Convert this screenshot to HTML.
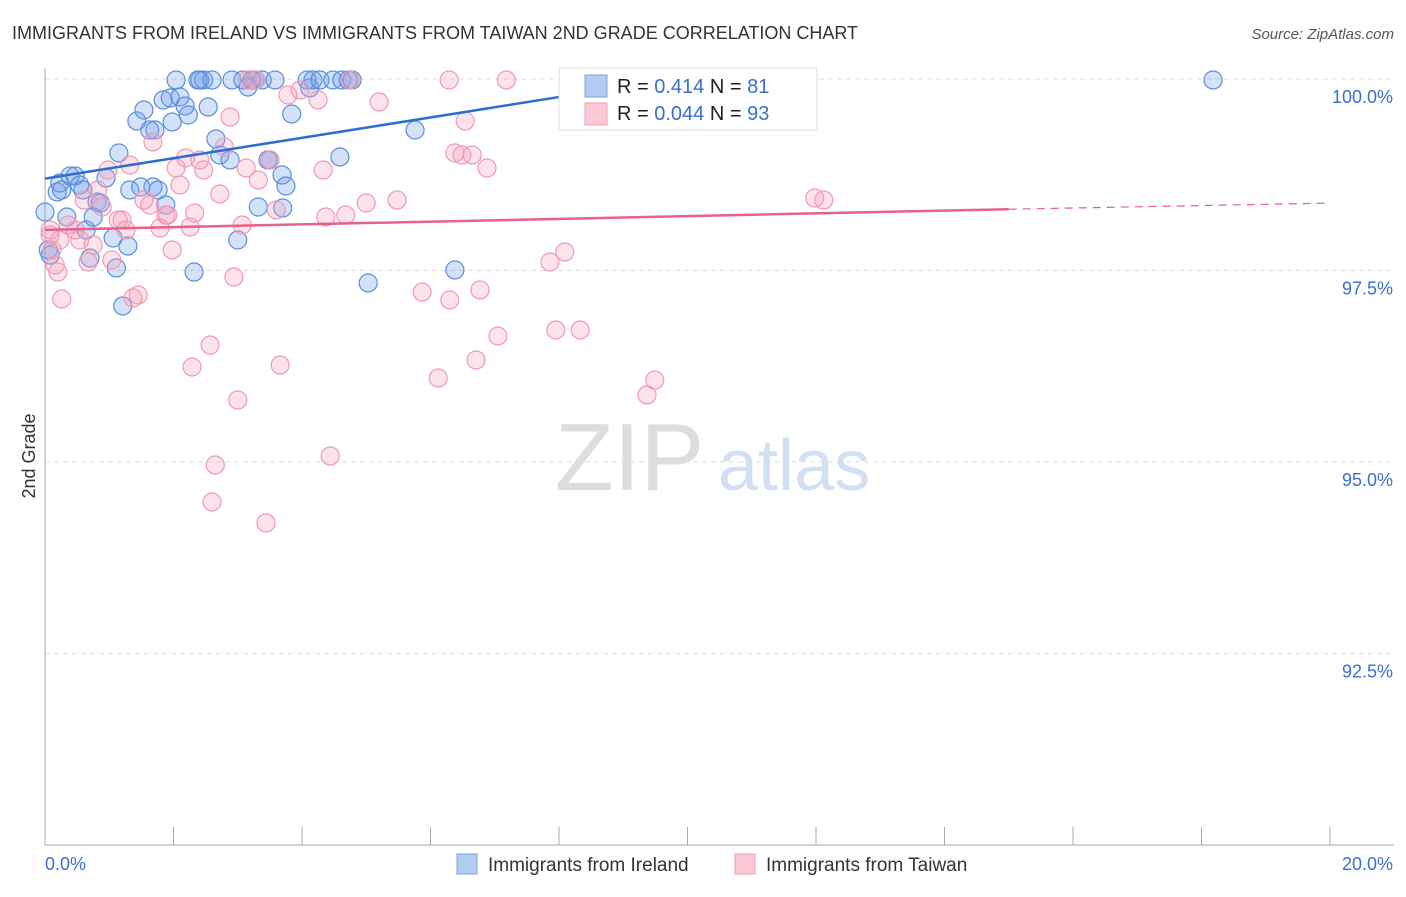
<!DOCTYPE html>
<html><head><meta charset="utf-8"><style>
body{margin:0;background:#fff;font-family:"Liberation Sans",sans-serif}
svg text{font-family:"Liberation Sans",sans-serif}
</style></head><body>
<svg id="c" width="1406" height="892" xmlns="http://www.w3.org/2000/svg">
<text x="12" y="39" font-size="18" fill="#333">IMMIGRANTS FROM IRELAND VS IMMIGRANTS FROM TAIWAN 2ND GRADE CORRELATION CHART</text>
<text x="1394" y="39" font-size="15" fill="#555" font-style="italic" text-anchor="end">Source: ZipAtlas.com</text>
<text x="35" y="456" font-size="18" fill="#333" transform="rotate(-90 35 456)" text-anchor="middle">2nd Grade</text>
<text x="555" y="490" font-size="96" fill="#ddd" font-family="Liberation Serif">ZIP</text>
<text x="718" y="490" font-size="72" fill="#d3e0f3">atlas</text>
<g id="grid"></g><g id="axes"></g><g id="pts"></g><g id="lines"></g>
<g>
<rect x="559" y="68" width="258" height="62" fill="#fff" stroke="#ddd"/>
<rect x="585" y="75" width="22" height="22" fill="#b3ccf2" stroke="#7aa3e0"/>
<rect x="585" y="103" width="22" height="22" fill="#fbc9d6" stroke="#f29bb5"/>
<text x="617" y="93" font-size="20" fill="#222">R = <tspan fill="#3a6fcf"> 0.414</tspan>   N = <tspan fill="#3a6fcf"> 81</tspan></text>
<text x="617" y="120" font-size="20" fill="#222">R = <tspan fill="#3a6fcf">0.044</tspan>   N = <tspan fill="#3a6fcf">93</tspan></text>
</g>
<g>
<rect x="457" y="854" width="20" height="20" fill="#b3ccf2" stroke="#7aa3e0"/>
<text x="488" y="871" font-size="19" fill="#333">Immigrants from Ireland</text>
<rect x="735" y="854" width="20" height="20" fill="#fbc9d6" stroke="#f29bb5"/>
<text x="766" y="871" font-size="19" fill="#333">Immigrants from Taiwan</text>
</g>
</svg>
<script>
const yTicks=[100,97.5,95,92.5];
const yTickLabels=["100.0%","97.5%","95.0%","92.5%"];
const xTickLabels=["0.0%","20.0%"];
const irelandPx=[[45,212],[48,250],[50,255],[57,192],[60,183],[62,190],[67,217],[70,176],[75,176],[80,185],[83,190],[86,230],[90,258],[93,217],[97,202],[100,203],[106,178],[113,238],[116,268],[119,153],[123,306],[128,246],[130,190],[137,121],[141,187],[144,110],[150,130],[153,187],[155,130],[158,190],[163,100],[166,205],[170,98],[172,122],[176,80],[180,97],[185,106],[188,115],[194,272],[198,80],[200,80],[204,80],[208,107],[212,80],[216,139],[220,155],[230,160],[232,80],[238,240],[243,80],[248,87],[252,80],[255,80],[258,207],[262,80],[268,160],[270,160],[275,80],[282,175],[283,208],[286,186],[292,114],[307,80],[310,88],[313,80],[320,80],[333,80],[340,157],[342,80],[348,80],[352,80],[368,283],[415,130],[455,270],[573,80],[675,80],[760,80],[1213,80]];
const taiwanPx=[[50,235],[52,250],[55,265],[58,272],[62,299],[68,225],[75,230],[80,240],[84,200],[88,262],[93,245],[98,190],[102,207],[108,170],[112,260],[118,220],[122,220],[126,230],[130,165],[133,298],[138,295],[144,200],[150,205],[153,142],[160,228],[166,215],[168,215],[172,250],[176,168],[180,185],[186,158],[190,227],[192,367],[195,213],[200,160],[204,170],[210,345],[212,502],[215,465],[220,194],[224,147],[230,117],[234,277],[238,400],[242,225],[246,168],[248,80],[256,80],[258,180],[266,523],[270,160],[276,210],[280,365],[288,95],[300,90],[318,100],[323,170],[326,217],[330,456],[346,215],[350,80],[366,203],[379,102],[397,200],[422,292],[438,378],[449,80],[450,300],[455,153],[462,155],[465,121],[472,155],[476,360],[480,290],[487,168],[498,336],[506,80],[550,262],[556,330],[565,252],[580,330],[647,395],[655,380],[798,80],[815,198],[824,200],[50,230],[60,240]];
// convert reading to data units (x %, y %)
const irelandX=irelandPx.map(p=>+((p[0]-45)/64.25).toFixed(2));
const irelandY=irelandPx.map(p=>+(100-(p[1]-79)/76.6).toFixed(3));
const taiwanX=taiwanPx.map(p=>+((p[0]-45)/64.25).toFixed(2));
const taiwanY=taiwanPx.map(p=>+(100-(p[1]-79)/76.6).toFixed(3));
const irelandTrend=[[0,98.7],[10,100.03]];
const taiwanTrend=[[0,98.03],[15,98.3],[20,98.38]];
const NS="http://www.w3.org/2000/svg";
const xs=v=>45+v*64.25, ys=v=>79+(100-v)*76.6;
function mk(tag,attrs,parent){const e=document.createElementNS(NS,tag);for(const k in attrs)e.setAttribute(k,attrs[k]);document.getElementById(parent).appendChild(e);return e;}
yTicks.forEach((t,i)=>{
 const l=mk('line',{x1:45,x2:1394,y1:ys(t),y2:ys(t),stroke:'#ddd','stroke-dasharray':'5,4'},'grid');
 
 
 const tx=mk('text',{x:1393,y:ys(t)+24,'font-size':18,fill:'#3a6fcf','text-anchor':'end'},'axes');
 tx.textContent=yTickLabels[i];
 
 
});
const ax=mk('line',{x1:45,x2:45,y1:68,y2:845,stroke:'#aaa'},'axes');


const bx=mk('line',{x1:45,x2:1394,y1:845,y2:845,stroke:'#aaa'},'axes');


for(let i=0;i<=10;i++){
 const t=mk('line',{x1:xs(i*2),x2:xs(i*2),y1:827,y2:845,stroke:'#aaa'},'axes');
 
 
}
const xl0=mk('text',{x:45,y:870,'font-size':18,fill:'#3a6fcf'},'axes');xl0.textContent=xTickLabels[0];


const xl1=mk('text',{x:1393,y:870,'font-size':18,fill:'#3a6fcf','text-anchor':'end'},'axes');xl1.textContent=xTickLabels[1];


irelandX.forEach((x,i)=>{const c=mk('circle',{cx:xs(x),cy:ys(irelandY[i]),r:9,fill:'rgba(110,160,235,0.3)',stroke:'#5b8fd9','stroke-width':1.2},'pts');
 
 });
taiwanX.forEach((x,i)=>{const c=mk('circle',{cx:xs(x),cy:ys(taiwanY[i]),r:9,fill:'rgba(245,160,185,0.3)',stroke:'#f09ab4','stroke-width':1.2},'pts');
 
 });
const bl=mk('line',{x1:xs(irelandTrend[0][0]),y1:ys(irelandTrend[0][1]),x2:xs(irelandTrend[1][0]),y2:ys(irelandTrend[1][1]),stroke:'#2a6dd6','stroke-width':2.5},'lines');


const pl=mk('line',{x1:xs(taiwanTrend[0][0]),y1:ys(taiwanTrend[0][1]),x2:xs(taiwanTrend[1][0]),y2:ys(taiwanTrend[1][1]),stroke:'#e8608a','stroke-width':2.5},'lines');


const pd=mk('line',{x1:xs(taiwanTrend[1][0]),y1:ys(taiwanTrend[1][1]),x2:xs(taiwanTrend[2][0]),y2:ys(taiwanTrend[2][1]),stroke:'#e8608a','stroke-width':1.2,'stroke-dasharray':'8,6'},'lines');


</script>
</body></html>
